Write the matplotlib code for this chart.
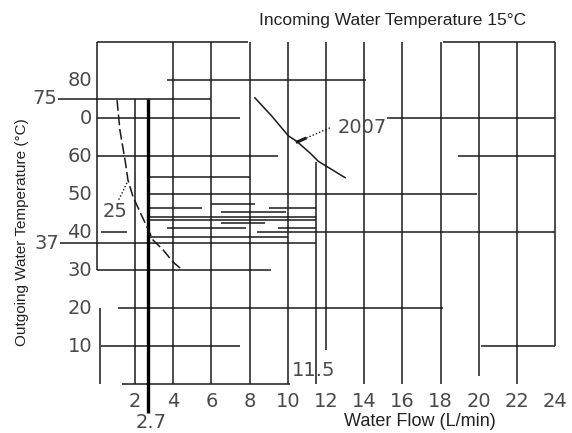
import matplotlib
matplotlib.use("Agg")
import matplotlib.pyplot as plt

# ---- data ----
x_ticks = [2, 4, 6, 8, 10, 12, 14, 16, 18, 20, 22, 24]
x_tick_labels = ["2", "4", "6", "8", "10", "12", "14", "16", "18", "20", "22", "24"]
y_ticks = [80, 75, 70, 60, 50, 40, 37, 30, 20, 10]
y_tick_labels = ["80", "75", "0", "60", "50", "40", "37", "30", "20", "10"]

# curve labelled "25"
c25_flow = [1.06, 1.21, 1.48, 1.63, 1.90, 2.26, 2.63, 2.94, 3.47, 3.99, 4.36]
c25_temp = [74.7, 66.8, 58.9, 53.7, 49.2, 45.3, 41.3, 37.9, 35.3, 32.1, 30.5]
# curve labelled "2007"
c2007_flow = [8.28, 9.16, 10.03, 10.46, 11.16, 11.6, 13.0]
c2007_temp = [75.3, 70.5, 65.3, 63.9, 60.8, 58.6, 54.3]

min_flow = 2.7
max_flow = 11.5
max_temp = 75
min_temp = 37

# horizontal grid segments: (temp, flow_start, flow_end)
h_grid = [
    (90, 0, 7.9), (90, 18.1, 24),
    (80, 3.7, 14.1),
    (75, -2.05, 6.0),
    (70, 0, 7.5), (70, 15.2, 24),
    (60, 0, 9.5), (60, 18.9, 24),
    (54.4, 2.7, 8.0),
    (50, 2.7, 19.9),
    (40, 8.4, 24), (40, 0.2, 1.6),
    (37, -1.95, 11.5),
    (30, 0, 9.1),
    (20, 1.1, 18.1),
    (10, 0.2, 7.5), (10, 20.1, 24),
    (0, 1.3, 10.1),
]
# vertical grid segments: (flow, temp_start, temp_end)
v_grid = [
    (0, 30, 90), (0.15, 0, 20),
    (2, 0, 75), (4, 0, 90), (6, 0, 90), (8, 0, 90), (10, 0, 90),
    (11.5, 0, 58.5), (12, 9, 90), (14, 0, 90), (16, 0, 90),
    (18, 0, 90), (20, 2, 90), (22, 0, 90), (24, 10, 90),
]
# band lines between min/max flow
band = [
    (47.4, 6.0, 8.3), (46.3, 2.7, 5.5), (46.3, 9.0, 11.5),
    (45.3, 6.5, 9.9), (43.9, 2.7, 11.5), (43.1, 2.7, 11.5),
    (42.4, 6.5, 8.8), (41.0, 3.7, 7.8), (41.0, 9.5, 11.5),
    (38.7, 2.7, 10.0),
]

# ---- figure ----
W, H = 572, 433
fig = plt.figure(figsize=(W / 100, H / 100), dpi=100)
ax = fig.add_axes([0, 0, 1, 1])
x0p, sx = 96.8, 19.1
y0p, sy = 384.0, 3.8
ax.set_xlim(-x0p / sx, (W - x0p) / sx)
ax.set_ylim(-(H - y0p) / sy, y0p / sy)
ax.axis("off")

lc = "#1a1a1a"
for t, a, b in h_grid:
    ax.plot([a, b], [t, t], color=lc, lw=1.1, solid_capstyle="butt")
for f, a, b in v_grid:
    ax.plot([f, f], [a, b], color=lc, lw=1.1, solid_capstyle="butt")
for t, a, b in band:
    ax.plot([a, b], [t, t], color=lc, lw=1.1, solid_capstyle="butt")

# min flow line (thick)
ax.plot([min_flow, min_flow], [-7.5, max_temp], color="black", lw=2.4, solid_capstyle="butt")

# curves
ax.plot(c25_flow, c25_temp, color=lc, lw=1.1, ls=(0, (7, 2.5)))
ax.plot(c2007_flow, c2007_temp, color=lc, lw=1.1)

# leaders
ax.plot([12.2, 10.5], [67.4, 63.7], color=lc, lw=1.0, ls=(0, (1, 1.5)))
ax.plot([10.5, 10.9], [63.7, 64.6], color=lc, lw=2.2)
ax.plot([1.15, 1.63], [48.5, 53.5], color=lc, lw=1.0, ls=(0, (1, 1.5)))

num_font = dict(family="DejaVu Sans", fontsize=14, color="#4a4a4a")
for x, lab in zip(x_ticks, x_tick_labels):
    ax.text(x, -4.5, lab, ha="center", va="center", **num_font)
for y, lab in zip(y_ticks, y_tick_labels):
    xr = -0.25
    if lab == "75":
        xr = -2.05
    elif lab == "37":
        xr = -1.95
    ax.text(xr, y, lab, ha="right", va="center", **num_font)

ax.text(2.85, -10.2, "2.7", ha="center", va="center", **num_font)
ax.text(11.35, 3.5, "11.5", ha="center", va="center", **num_font)
ax.text(0.95, 45.3, "25", ha="center", va="center", **num_font)
ax.text(13.9, 67.6, "2007", ha="center", va="center", **num_font)

ax.text(16.9, -10.0, "Water Flow (L/min)", ha="center", va="center",
        family="Liberation Sans", fontsize=13, color="#222222")
ax.text(15.5, 95.6, "Incoming Water Temperature 15°C", ha="center", va="center",
        family="Liberation Sans", fontsize=12.5, color="#222222")
ax.text(-3.9, 40, "Outgoing Water Temperature (°C)", ha="center", va="center",
        rotation=90, family="Liberation Sans", fontsize=11, color="#222222")

fig.savefig("out.png", dpi=100)
